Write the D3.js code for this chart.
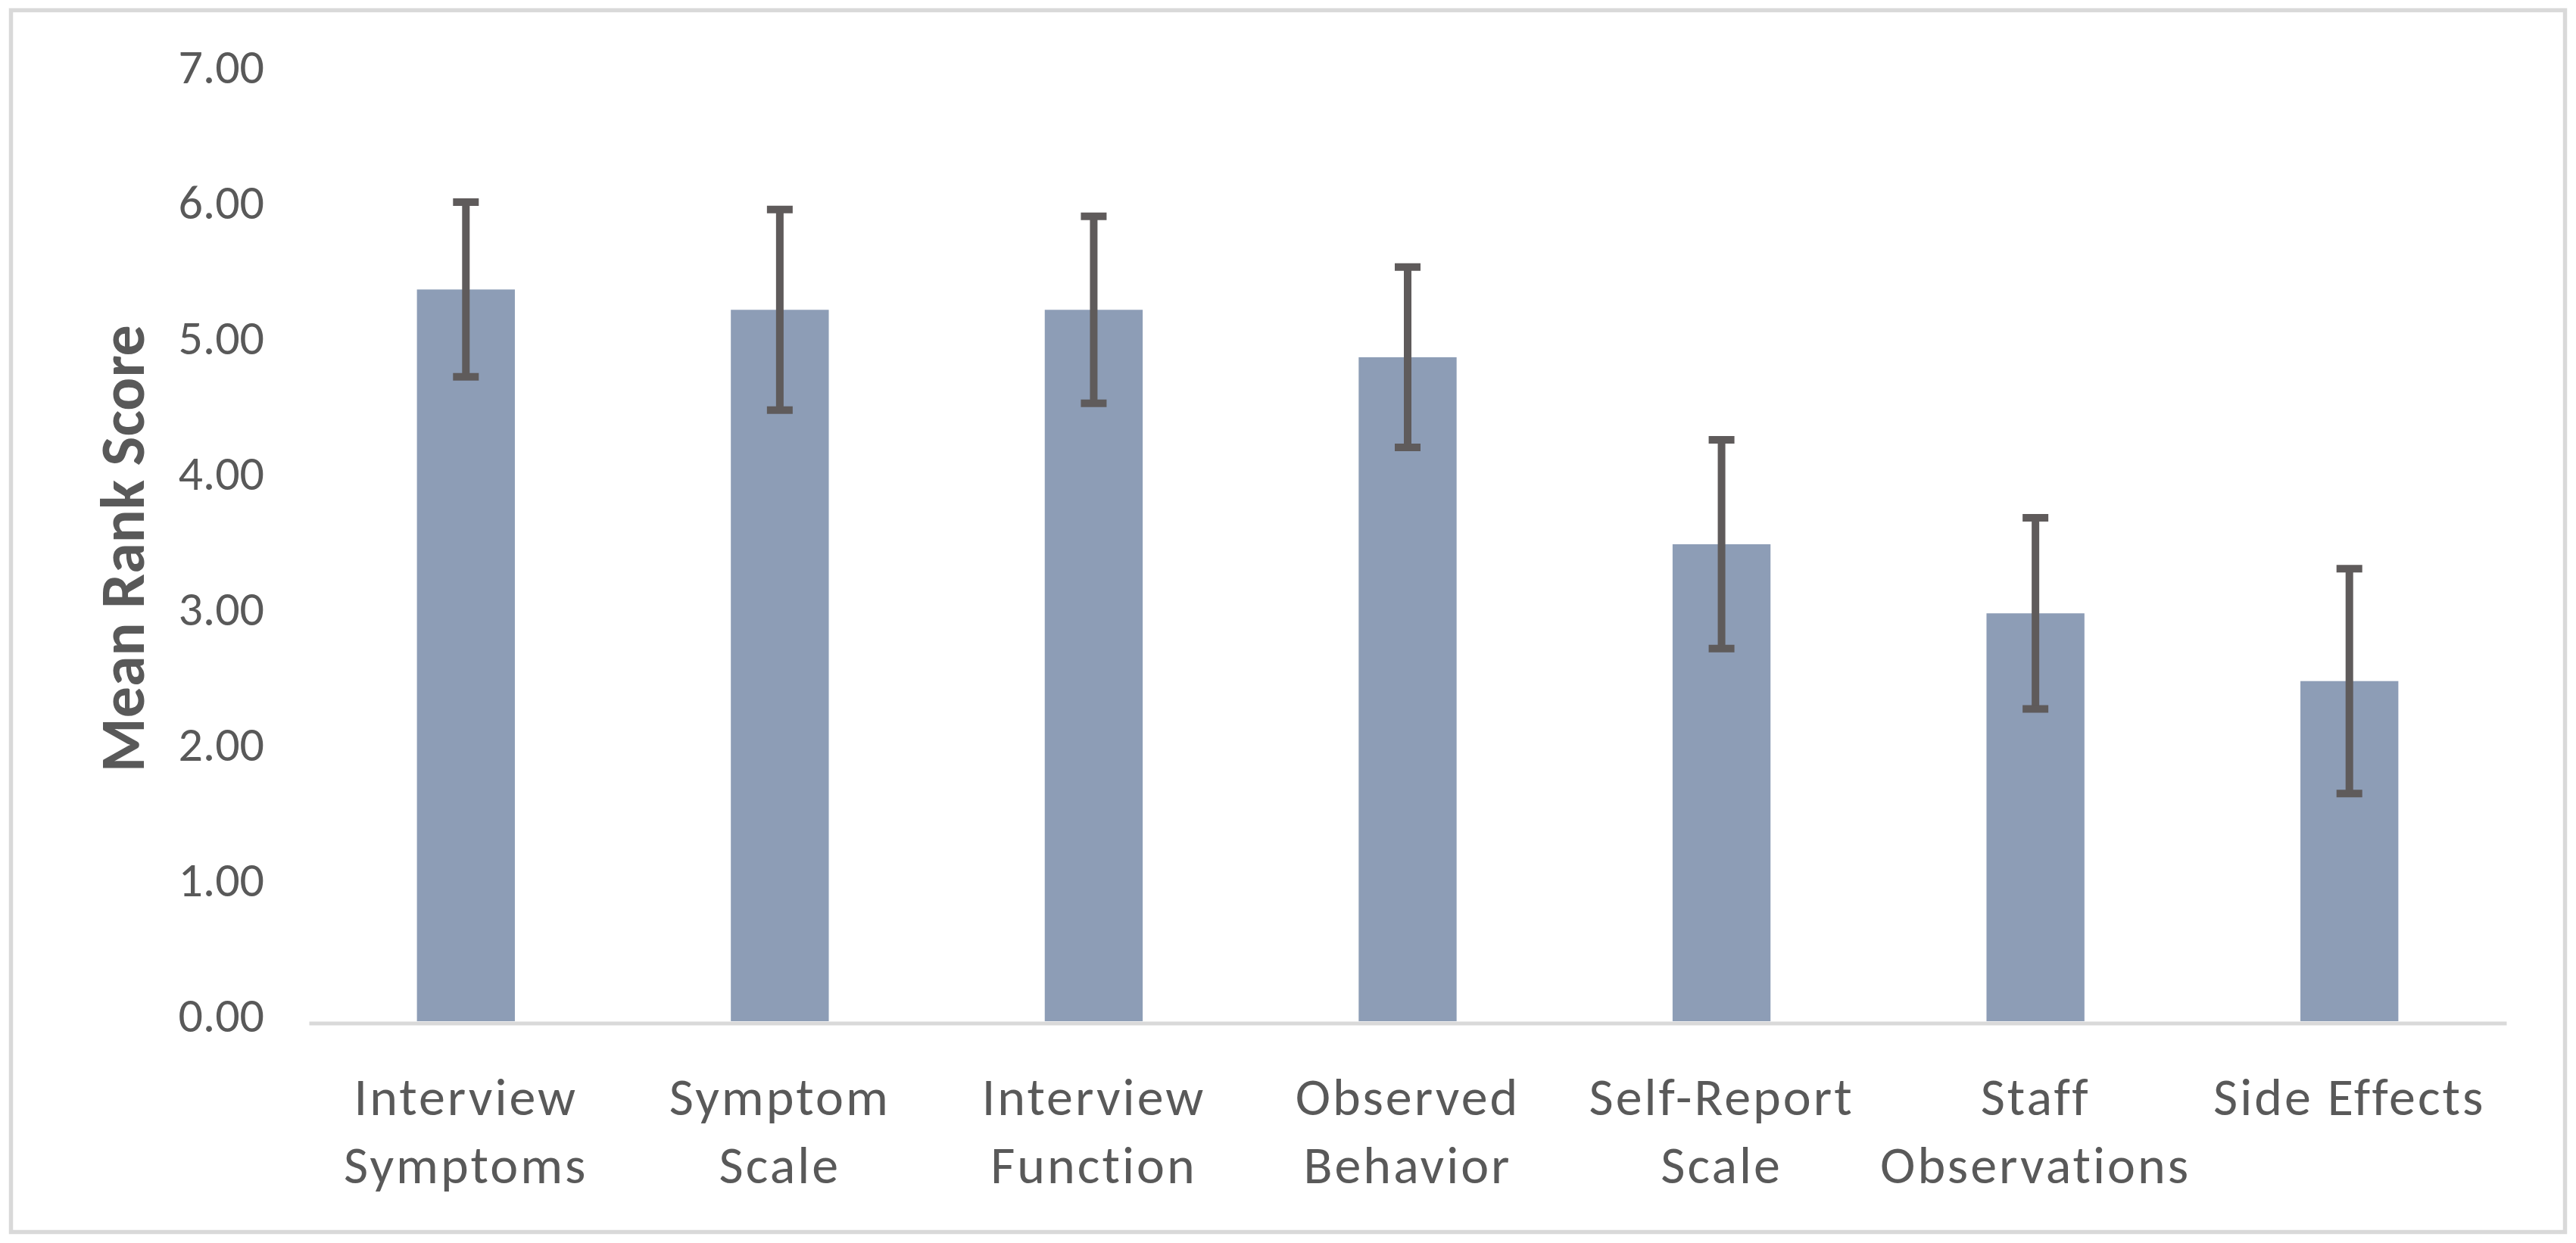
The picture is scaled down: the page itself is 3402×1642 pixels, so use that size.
<!DOCTYPE html>
<html>
<head>
<meta charset="utf-8">
<script src="https://cdn.jsdelivr.net/npm/d3@7"></script>
<style>
  html, body { margin: 0; padding: 0; background: #ffffff; }
  svg { display: block; }
</style>
</head>
<body>
<script>
// ---- data ----
const categories = [
  ["Interview", "Symptoms"],
  ["Symptom", "Scale"],
  ["Interview", "Function"],
  ["Observed", "Behavior"],
  ["Self-Report", "Scale"],
  ["Staff", "Observations"],
  ["Side Effects"]
];
const meanRank = [5.40, 5.25, 5.25, 4.90, 3.52, 3.01, 2.51];
const errorSize = [0.645, 0.74, 0.69, 0.665, 0.77, 0.705, 0.83];
const yTicks = [0, 1, 2, 3, 4, 5, 6, 7];
const yTitle = "Mean Rank Score";

// ---- layout ----
const W = 3402, H = 1642;
const plot = { left: 408, right: 3310, top: 96, bottom: 1349 };
const FONT = "Carlito, Calibri, Lato, 'Open Sans', sans-serif";
const TEXT = "#595959";

const svg = d3.select("body").append("svg")
  .attr("width", W).attr("height", H)
  .attr("viewBox", `0 0 ${W} ${H}`);

svg.append("rect").attr("width", W).attr("height", H).attr("fill", "#ffffff");

// outer chart border
svg.append("rect")
  .attr("x", 14.5).attr("y", 13.5)
  .attr("width", 3387.5 - 14.5).attr("height", 1627.5 - 13.5)
  .attr("fill", "none").attr("stroke", "#d9d9d9").attr("stroke-width", 5.5);

const idx = d3.range(categories.length);
const x = d3.scaleBand()
  .domain(idx)
  .range([plot.left, plot.right])
  .paddingInner(0.688)
  .paddingOuter(0.344);

const y = d3.scaleLinear().domain([0, 7]).range([plot.bottom, plot.top]);

// y axis labels (no line, no ticks)
const yAxis = d3.axisLeft(y).tickValues(yTicks).tickFormat(d3.format(".2f")).tickSize(0).tickPadding(0);
const yg = svg.append("g").attr("transform", `translate(349,0)`).call(yAxis);
yg.select(".domain").remove();
yg.selectAll("text")
  .attr("font-family", FONT).attr("font-size", 64).attr("fill", TEXT)
  .attr("dy", "0.32em").attr("y", -7);

// bars
svg.append("g").selectAll("rect.bar")
  .data(idx).join("rect")
  .attr("class", "bar")
  .attr("x", i => x(i))
  .attr("width", x.bandwidth())
  .attr("y", i => y(meanRank[i]))
  .attr("height", i => y(0) - y(meanRank[i]))
  .attr("fill", "#8d9db6");

// x axis line
const xAxis = d3.axisBottom(x).tickSize(0).tickFormat("");
const xg = svg.append("g").attr("transform", `translate(0,${plot.bottom + 2.5})`).call(xAxis);
xg.select(".domain").attr("stroke", "#d9d9d9").attr("stroke-width", 5);

// x labels
const lab = svg.append("g");
idx.forEach(i => {
  const t = lab.append("text")
    .attr("x", x(i) + x.bandwidth() / 2)
    .attr("y", 1473)
    .attr("text-anchor", "middle")
    .attr("font-family", FONT).attr("font-size", 70)
    .attr("letter-spacing", 3).attr("fill", TEXT);
  categories[i].forEach((line, k) => {
    t.append("tspan")
      .attr("x", x(i) + x.bandwidth() / 2)
      .attr("dy", k === 0 ? 0 : 90)
      .text(line);
  });
});

// error bars
const eb = svg.append("g").attr("stroke", "#5f5b5b").attr("stroke-width", 10);
idx.forEach(i => {
  const cx = x(i) + x.bandwidth() / 2;
  const hi = y(meanRank[i] + errorSize[i]);
  const lo = y(meanRank[i] - errorSize[i]);
  eb.append("line").attr("x1", cx).attr("x2", cx).attr("y1", hi).attr("y2", lo);
  eb.append("line").attr("x1", cx - 17).attr("x2", cx + 17).attr("y1", hi).attr("y2", hi);
  eb.append("line").attr("x1", cx - 17).attr("x2", cx + 17).attr("y1", lo).attr("y2", lo);
});

// y title
svg.append("text")
  .attr("transform", `translate(190,${(plot.top + plot.bottom) / 2 + 2}) rotate(-90)`)
  .attr("text-anchor", "middle")
  .attr("font-family", FONT).attr("font-size", 82).attr("font-weight", "bold")
  .attr("fill", TEXT)
  .text(yTitle);
</script>
</body>
</html>
